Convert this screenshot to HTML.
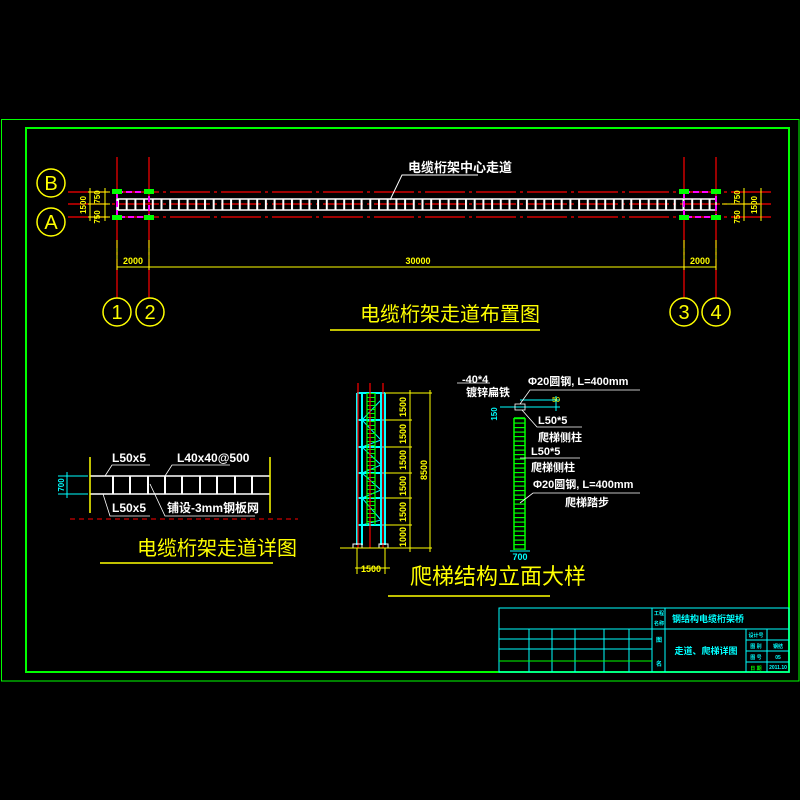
<!DOCTYPE html>
<html><head><meta charset="utf-8"><style>
html,body{margin:0;padding:0;background:#000;}
svg{display:block;}
text{font-family:"Liberation Sans","Noto Sans CJK SC",sans-serif;}
</style></head><body>
<svg width="800" height="800" viewBox="0 0 800 800" xmlns="http://www.w3.org/2000/svg">
<defs>
<pattern id="rung" x="117" y="0" width="8.7" height="800" patternUnits="userSpaceOnUse">
<rect x="0" y="199" width="2" height="11" fill="#fff"/>
</pattern>
<pattern id="lrung" x="0" y="393" width="10" height="4" patternUnits="userSpaceOnUse">
<rect x="0" y="0" width="10" height="1" fill="#0f0"/>
</pattern>
<pattern id="rrung" x="0" y="418" width="10" height="4.5" patternUnits="userSpaceOnUse">
<rect x="0" y="0" width="12" height="1.2" fill="#0f0"/>
</pattern>
</defs>
<rect width="800" height="800" fill="#000"/>
<!-- frames -->
<rect x="1.5" y="119.5" width="797.5" height="561.5" fill="none" stroke="#0f0" stroke-width="1"/>
<rect x="26" y="128" width="763" height="544" fill="none" stroke="#0f0" stroke-width="2"/>

<!-- PLAN -->
<g stroke="#f00" stroke-width="1.2" stroke-dasharray="40,4,3,4">
<line x1="68" y1="192" x2="775" y2="192"/>
<line x1="68" y1="204" x2="775" y2="204"/>
<line x1="68" y1="217" x2="775" y2="217"/>
<line x1="117" y1="157" x2="117" y2="298"/>
<line x1="149" y1="157" x2="149" y2="298"/>
<line x1="684" y1="157" x2="684" y2="298"/>
<line x1="716" y1="157" x2="716" y2="298"/>
</g>
<rect x="117" y="199" width="599" height="11" fill="url(#rung)"/>
<rect x="117" y="199" width="599" height="11" fill="none" stroke="#fff" stroke-width="1.5"/>
<g stroke="#f0f" stroke-width="2" fill="none">
<rect x="117" y="192" width="32" height="25" stroke-dasharray="6,3"/>
<rect x="684" y="192" width="32" height="25" stroke-dasharray="6,3"/>
</g>
<g fill="#0f0">
<rect x="112" y="189" width="10" height="5"/><rect x="144" y="189" width="10" height="5"/>
<rect x="112" y="215" width="10" height="5"/><rect x="144" y="215" width="10" height="5"/>
<rect x="679" y="189" width="10" height="5"/><rect x="711" y="189" width="10" height="5"/>
<rect x="679" y="215" width="10" height="5"/><rect x="711" y="215" width="10" height="5"/>
</g>
<text x="408" y="172" fill="#fff" font-size="13" font-weight="bold">电缆桁架中心走道</text>
<polyline points="390,200 402,175 478,175" fill="none" stroke="#fff" stroke-width="1"/>
<!-- axis circles -->
<g fill="none" stroke="#ff0" stroke-width="1.5">
<circle cx="51" cy="183" r="14"/><circle cx="51" cy="222" r="14"/>
<circle cx="117" cy="312" r="14"/><circle cx="150" cy="312" r="14"/>
<circle cx="684" cy="312" r="14"/><circle cx="716" cy="312" r="14"/>
</g>
<g fill="#ff0" font-size="20" text-anchor="middle">
<text x="51" y="190">B</text><text x="51" y="229">A</text>
<text x="117" y="319">1</text><text x="150" y="319">2</text>
<text x="684" y="319">3</text><text x="716" y="319">4</text>
</g>
<!-- dims -->
<g stroke="#ff0" stroke-width="1">
<line x1="117" y1="267" x2="716" y2="267"/>
<line x1="117" y1="240" x2="117" y2="270"/><line x1="149" y1="240" x2="149" y2="270"/>
<line x1="684" y1="240" x2="684" y2="270"/><line x1="716" y1="240" x2="716" y2="270"/>
<line x1="88" y1="192" x2="110" y2="192"/><line x1="88" y1="204" x2="110" y2="204"/><line x1="88" y1="217" x2="110" y2="217"/>
<line x1="90" y1="188" x2="90" y2="221"/><line x1="105" y1="188" x2="105" y2="221"/>
<line x1="722" y1="204" x2="760" y2="204"/>
<line x1="744" y1="188" x2="744" y2="221"/><line x1="761" y1="188" x2="761" y2="221"/>
</g>
<g fill="#ff0" font-size="9" font-weight="bold">
<text x="133" y="264" text-anchor="middle">2000</text>
<text x="418" y="264" text-anchor="middle">30000</text>
<text x="700" y="264" text-anchor="middle">2000</text>
</g>
<g fill="#ff0" font-size="8" font-weight="bold">
<text transform="translate(86,205) rotate(-90)" text-anchor="middle">1500</text>
<text transform="translate(100,197) rotate(-90)" text-anchor="middle">750</text>
<text transform="translate(100,217) rotate(-90)" text-anchor="middle">750</text>
<text transform="translate(740,197) rotate(-90)" text-anchor="middle">750</text>
<text transform="translate(740,217) rotate(-90)" text-anchor="middle">750</text>
<text transform="translate(757,205) rotate(-90)" text-anchor="middle">1500</text>
</g>
<text x="360" y="321" fill="#ff0" font-size="20">电缆桁架走道布置图</text>
<line x1="330" y1="330" x2="540" y2="330" stroke="#ff0" stroke-width="1.5"/>

<!-- WALKWAY DETAIL -->
<g stroke="#fff" stroke-width="1.5">
<line x1="90" y1="476" x2="270" y2="476"/><line x1="90" y1="494" x2="270" y2="494"/>
</g>
<g stroke="#fff" stroke-width="2">
<line x1="113" y1="476" x2="113" y2="494"/><line x1="130" y1="476" x2="130" y2="494"/>
<line x1="148" y1="476" x2="148" y2="494"/><line x1="165" y1="476" x2="165" y2="494"/>
<line x1="182" y1="476" x2="182" y2="494"/><line x1="200" y1="476" x2="200" y2="494"/>
<line x1="217" y1="476" x2="217" y2="494"/><line x1="235" y1="476" x2="235" y2="494"/>
<line x1="252" y1="476" x2="252" y2="494"/>
</g>
<g stroke="#ff0" stroke-width="1.5" fill="none">
<line x1="90" y1="457" x2="90" y2="513"/><line x1="270" y1="457" x2="270" y2="513"/>
</g>
<line x1="70" y1="519" x2="298" y2="519" stroke="#f00" stroke-dasharray="5,4"/>
<g stroke="#fff" stroke-width="0.8" fill="none">
<polyline points="105,476 112,465 150,465"/><polyline points="165,476 172,465 230,465"/>
<polyline points="103,494 110,516 150,516"/><polyline points="150,484 165,516 255,516"/>
</g>
<g fill="#fff" font-size="12" font-weight="bold">
<text x="112" y="462">L50x5</text><text x="177" y="462">L40x40@500</text>
<text x="112" y="512">L50x5</text><text x="167" y="512">铺设-3mm钢板网</text>
</g>
<g stroke="#0ff" stroke-width="1"><line x1="58" y1="476" x2="88" y2="476"/><line x1="58" y1="494" x2="88" y2="494"/><line x1="67" y1="472" x2="67" y2="498"/></g>
<text transform="translate(64,485) rotate(-90)" fill="#0ff" font-size="8" text-anchor="middle" font-weight="bold">700</text>
<text x="137" y="555" fill="#ff0" font-size="20">电缆桁架走道详图</text>
<line x1="100" y1="563" x2="273" y2="563" stroke="#ff0" stroke-width="1.5"/>

<!-- LADDER ELEVATION -->
<g stroke="#0ff" stroke-width="2" fill="none">
<line x1="357" y1="393" x2="357" y2="545"/><line x1="362" y1="393" x2="362" y2="545"/>
<line x1="381" y1="393" x2="381" y2="545"/><line x1="385" y1="393" x2="385" y2="545"/>
<line x1="357" y1="393" x2="385" y2="393"/><line x1="357" y1="420" x2="385" y2="420"/>
<line x1="357" y1="447" x2="385" y2="447"/><line x1="357" y1="473" x2="385" y2="473"/>
<line x1="357" y1="498" x2="385" y2="498"/><line x1="357" y1="525" x2="385" y2="525"/>
<polyline points="362,420 381,400 362,420 381,440 362,447 381,465 362,473 381,490 362,498 381,520 362,525" stroke-width="1"/>
</g>
<rect x="367" y="393" width="8" height="132" fill="url(#lrung)"/>
<g stroke="#0f0" stroke-width="1.2"><line x1="367" y1="393" x2="367" y2="525"/><line x1="375" y1="393" x2="375" y2="525"/></g>
<g stroke="#f00" stroke-width="1.2"><line x1="358" y1="383" x2="358" y2="548"/><line x1="370" y1="383" x2="370" y2="548"/><line x1="383" y1="383" x2="383" y2="548"/></g>
<g fill="none" stroke="#fff"><rect x="353" y="544" width="9" height="4"/><rect x="379" y="544" width="9" height="4"/></g>
<g stroke="#ff0" stroke-width="1">
<line x1="385" y1="393" x2="432" y2="393"/><line x1="385" y1="420" x2="412" y2="420"/>
<line x1="385" y1="447" x2="412" y2="447"/><line x1="385" y1="473" x2="412" y2="473"/>
<line x1="385" y1="498" x2="412" y2="498"/><line x1="385" y1="525" x2="412" y2="525"/>
<line x1="340" y1="548" x2="432" y2="548"/>
<line x1="410" y1="390" x2="410" y2="552"/><line x1="430" y1="390" x2="430" y2="552"/>
<line x1="355" y1="568" x2="390" y2="568"/><line x1="357" y1="548" x2="357" y2="574"/><line x1="385" y1="548" x2="385" y2="574"/>
</g>
<g fill="#ff0" font-size="9" font-weight="bold" text-anchor="middle">
<text transform="translate(406,407) rotate(-90)">1500</text>
<text transform="translate(406,434) rotate(-90)">1500</text>
<text transform="translate(406,460) rotate(-90)">1500</text>
<text transform="translate(406,486) rotate(-90)">1500</text>
<text transform="translate(406,512) rotate(-90)">1500</text>
<text transform="translate(406,537) rotate(-90)">1000</text>
<text transform="translate(427,470) rotate(-90)">8500</text>
<text x="371" y="572">1500</text>
</g>
<text x="410" y="584" fill="#ff0" font-size="22">爬梯结构立面大样</text>
<line x1="388" y1="596" x2="550" y2="596" stroke="#ff0" stroke-width="1.5"/>

<!-- SIDE LADDER -->
<rect x="514" y="418" width="11" height="132" fill="url(#rrung)"/>
<g stroke="#0f0" stroke-width="1.5"><line x1="514" y1="418" x2="514" y2="550"/><line x1="525" y1="418" x2="525" y2="550"/><line x1="514" y1="418" x2="525" y2="418"/></g>
<g stroke="#0ff" stroke-width="1">
<line x1="500" y1="407" x2="560" y2="407"/><line x1="520" y1="400" x2="560" y2="400"/>
<line x1="556" y1="396" x2="556" y2="411"/>
<line x1="510" y1="551" x2="530" y2="551"/>
</g>
<rect x="515" y="404" width="10" height="6" fill="none" stroke="#fff" stroke-width="0.8"/>
<text x="520" y="560" fill="#0ff" font-size="9" font-weight="bold" text-anchor="middle">700</text>
<text transform="translate(497,414) rotate(-90)" fill="#0ff" font-size="8" font-weight="bold" text-anchor="middle">150</text>
<text x="556" y="402" fill="#ff0" font-size="7" text-anchor="middle">50</text>
<g stroke="#fff" stroke-width="0.8" fill="none">
<line x1="457" y1="383" x2="490" y2="383"/>
<polyline points="520,404 530,390 640,390"/>
<polyline points="522,410 537,427 582,427"/>
<polyline points="520,458 530,458 580,458"/>
<polyline points="520,503 533,493 640,493"/>
</g>
<g fill="#fff" font-size="11" font-weight="bold">
<text x="462" y="383">-40*4</text><text x="466" y="396">镀锌扁铁</text>
<text x="528" y="385">Φ20圆钢, L=400mm</text>
<text x="538" y="424">L50*5</text><text x="538" y="441">爬梯侧柱</text>
<text x="531" y="455">L50*5</text><text x="531" y="471">爬梯侧柱</text>
<text x="533" y="488">Φ20圆钢, L=400mm</text><text x="565" y="506">爬梯踏步</text>
</g>

<!-- TITLE BLOCK -->
<g stroke="#0ff" stroke-width="1" fill="none">
<rect x="499" y="608" width="290" height="64"/>
<line x1="499" y1="629" x2="789" y2="629"/>
<line x1="652" y1="608" x2="652" y2="672"/><line x1="665" y1="608" x2="665" y2="672"/>
<line x1="499" y1="639" x2="652" y2="639"/><line x1="499" y1="649" x2="652" y2="649"/>
<line x1="529" y1="629" x2="529" y2="672"/><line x1="552" y1="629" x2="552" y2="672"/>
<line x1="575" y1="629" x2="575" y2="672"/><line x1="604" y1="629" x2="604" y2="672"/>
<line x1="629" y1="629" x2="629" y2="672"/>
<line x1="746" y1="629" x2="746" y2="672"/><line x1="767" y1="629" x2="767" y2="672"/>
<line x1="746" y1="640" x2="789" y2="640"/><line x1="746" y1="651" x2="789" y2="651"/><line x1="746" y1="662" x2="789" y2="662"/>
</g>
<line x1="499" y1="661" x2="652" y2="661" stroke="#0f0"/>
<g fill="#0ff" font-weight="bold">
<text x="708" y="622" font-size="9" text-anchor="middle">钢结构电缆桁架桥</text>
<text x="706" y="654" font-size="9" text-anchor="middle">走道、爬梯详图</text>
<text x="659" y="615" font-size="5" text-anchor="middle">工程</text>
<text x="659" y="625" font-size="5" text-anchor="middle">名称</text>
<text x="659" y="642" font-size="6" text-anchor="middle">图</text>
<text x="659" y="666" font-size="6" text-anchor="middle">名</text>
<text x="756" y="637" font-size="5" text-anchor="middle">设计号</text>
<text x="756" y="648" font-size="5" text-anchor="middle">图 别</text>
<text x="756" y="659" font-size="5" text-anchor="middle">图 号</text>
<text x="778" y="648" font-size="5" text-anchor="middle">钢结</text>
<text x="778" y="659" font-size="5" text-anchor="middle">05</text>
<text x="778" y="669" font-size="5" text-anchor="middle">2011.10</text>
</g>
<text x="756" y="670" fill="#0f0" font-size="5" font-weight="bold" text-anchor="middle">日 期</text>
</svg>
</body></html>
